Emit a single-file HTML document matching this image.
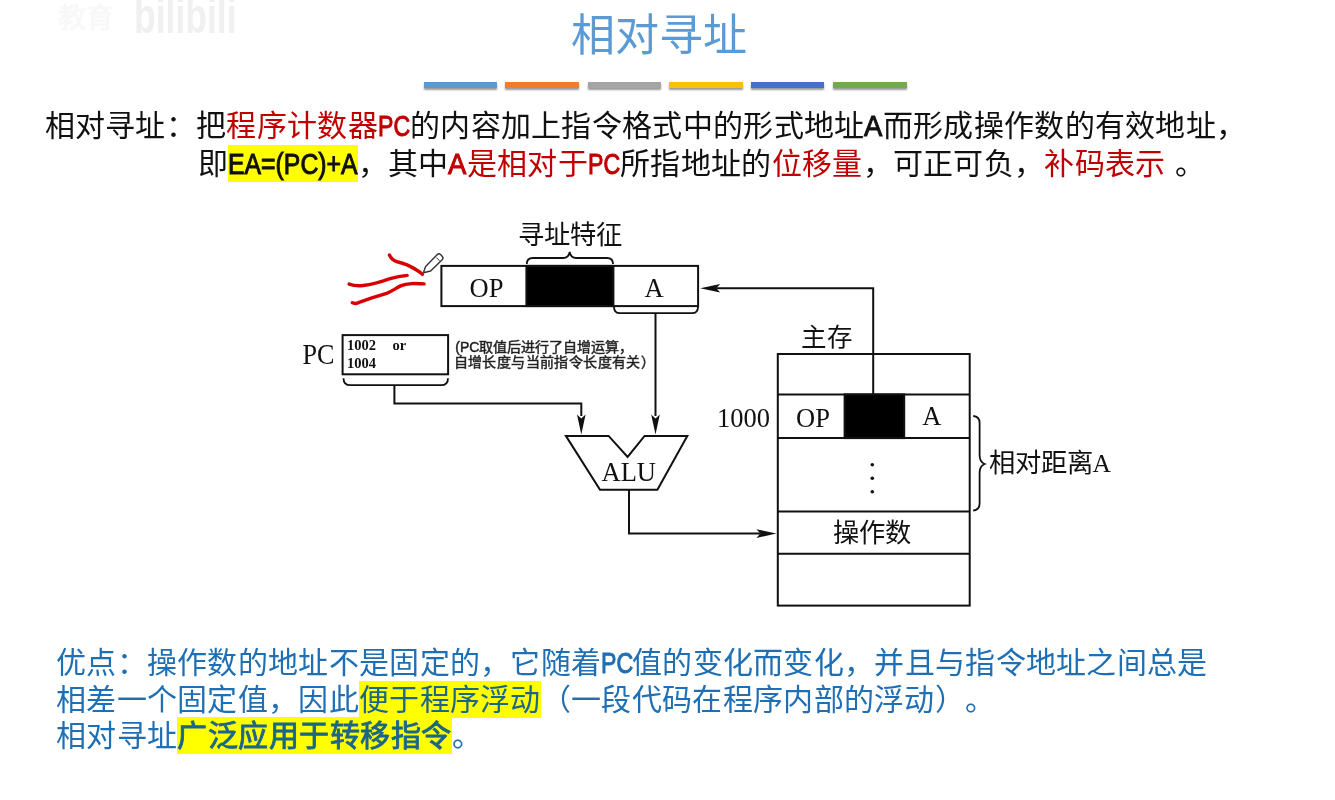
<!DOCTYPE html>
<html lang="zh-CN">
<head>
<meta charset="utf-8">
<title>相对寻址</title>
<style>
html,body{margin:0;padding:0;background:#fff;}
body{width:1335px;height:800px;position:relative;overflow:hidden;filter:blur(.4px);font-family:"Liberation Sans",sans-serif;color:#000;}
.abs{position:absolute;white-space:nowrap;}
.wm{color:#f1f1f1;font-weight:bold;filter:blur(0.6px);}
.title{left:571px;top:7.3px;font-size:44px;line-height:58px;color:#5b9bd5;}
.bar{position:absolute;top:81.8px;height:6.3px;width:73.5px;box-shadow:0 2px 2px rgba(0,0,0,.4);}
.ln{font-size:30px;letter-spacing:.3px;line-height:37px;height:37px;color:#111;text-spacing-trim:space-all;font-kerning:none;}
.red{color:#c00000;}
.lat{display:inline-block;font-family:"Liberation Sans",sans-serif;font-weight:normal;-webkit-text-stroke:1px;font-size:29.2px;line-height:37px;white-space:nowrap;letter-spacing:0;}
.lat>span{display:inline-block;transform-origin:0 50%;}
.wPC{width:32.1px}.wPC>span{transform:scaleX(.792)}
.wA{width:18.4px}.wA>span{transform:scaleX(.94)}
.wEA{width:129.5px}.wEA>span{transform:scaleX(.85)}
.sp{display:inline-block;width:9px;}
.hl{display:inline-block;background:#ffff00;height:37px;line-height:37px;}
.blue{color:#1f6fb5;}
.blue .hl{color:#1c6688;}
.b{font-weight:normal;-webkit-text-stroke:.9px;letter-spacing:.5px;}
svg{position:absolute;left:0;top:0;}
svg text{font-family:"Liberation Serif",serif;fill:#111;}
</style>
</head>
<body>
<!-- faint watermark -->
<div class="abs wm" style="left:58px;top:2px;font-size:28px;line-height:34px;color:#f8f8f8;">教育</div>
<div class="abs wm" style="left:134px;top:-9px;font-size:50px;line-height:50px;color:#f0f0f0;transform:scaleX(.71);transform-origin:0 0;">bilibili</div>

<div class="abs title">相对寻址</div>

<div class="bar" style="left:423.6px;background:#5b9bd5;"></div>
<div class="bar" style="left:505.2px;background:#ed7d31;"></div>
<div class="bar" style="left:587.8px;background:#a5a5a5;"></div>
<div class="bar" style="left:669.3px;background:#ffc000;"></div>
<div class="bar" style="left:750.6px;background:#4472c4;"></div>
<div class="bar" style="left:833.3px;background:#70ad47;"></div>

<div class="abs ln" id="l1" style="left:44.5px;top:107px;">相对寻址：把<span class="red">程序计数器<span class="lat wPC"><span>PC</span></span></span>的内容加上指令格式中的形式地址<span class="lat wA"><span>A</span></span>而形成操作数的有效地址，</div>
<div class="abs ln" id="l2" style="left:197.7px;top:144.8px;">即<span class="hl"><span class="lat wEA"><span>EA=(PC)+A</span></span></span>，其中<span class="red"><span class="lat wA"><span>A</span></span>是相对于<span class="lat wPC"><span>PC</span></span></span>所指地址的<span class="red">位移量</span>，可正可负，<span class="red">补码表示</span><span class="sp"></span>。</div>

<div class="abs ln blue" id="l3" style="left:56px;top:643.8px;">优点：操作数的地址不是固定的，它随着<span class="lat wPC" style="margin-right:-1.5px"><span>PC</span></span>值的变化而变化，并且与指令地址之间总是</div>
<div class="abs ln blue" id="l4" style="left:56px;top:680.7px;">相差一个固定值，因此<span class="hl">便于程序浮动</span>（一段代码在程序内部的浮动）。</div>
<div class="abs ln blue" id="l5" style="left:56px;top:716.5px;">相对寻址<span class="hl b">广泛应用于转移指令</span>。</div>

<svg id="dg" width="1335" height="800" viewBox="0 0 1335 800">
<defs>
<path id="ah" d="M0,0 L-4.3,-20 L0,-16 L4.3,-20 Z"/>
</defs>
<g fill="none" stroke="#111" stroke-width="2" stroke-linejoin="miter">
<!-- instruction register -->
<rect x="441.4" y="265.9" width="256.7" height="40.2"/>
<rect x="526.4" y="265.9" width="87" height="40.2" fill="#000"/>
<!-- brace above feature field -->
<path d="M526.8,264 q0,-6 6,-6 H563.2 q5.5,0 6.5,-6 q1,6 6.5,6 H607 q6,0 6,6" stroke-width="1.8"/>
<!-- bracket below A + stem to ALU -->
<path d="M614,307 q0,6.2 6,6.2 H692 q6,0 6,-6.2" stroke-width="1.8"/>
<path d="M655.5,313 V416"/>
<!-- memory to IR arrow -->
<path d="M873.2,394 V288.3 H716"/>
<!-- PC box -->
<rect x="342.6" y="335.1" width="105.5" height="39.2"/>
<path d="M343.5,378.2 q0,7 7,7 H441 q7,0 7,-7" stroke-width="1.8"/>
<path d="M394.4,385 V403.5 H581.3 V416"/>
<!-- ALU -->
<path d="M565.9,435.9 H608.6 L627.6,456.9 L644.6,435.9 H687.3 L657.4,489.7 H600 Z"/>
<path d="M629,490 V533.6 H760"/>
<!-- memory -->
<rect x="777.8" y="354" width="191.9" height="251.6"/>
<path d="M777.8,394.4 H969.7 M777.8,438.1 H969.7 M777.8,511.6 H969.7 M777.8,553.8 H969.7"/>
<rect x="844.6" y="394.4" width="59.6" height="43.7" fill="#000"/>
<!-- right brace -->
<path d="M973.2,416 q6.4,0.5 6.4,7 V455 q0,7 5,9 q-5,2 -5,9 V503.5 q0,6.5 -6.4,7" stroke-width="1.8"/>
</g>
<g fill="#111" stroke="none">
<use href="#ah" transform="translate(581.3,434.6)"/>
<use href="#ah" transform="translate(655.5,434.6)"/>
<use href="#ah" transform="translate(776.4,533.6) rotate(-90)"/>
<use href="#ah" transform="translate(700.2,288.3) rotate(90)"/>
<circle cx="872.3" cy="464.7" r="1.8"/><circle cx="872.3" cy="478.2" r="1.8"/><circle cx="872.3" cy="491.7" r="1.8"/>
</g>
<!-- labels -->
<text x="517.5" y="243.5" font-size="26.3" fill="#333">寻址特征</text>
<text x="469.5" y="297" font-size="26.5">OP</text>
<text x="644.5" y="297" font-size="26.5">A</text>
<text x="302.5" y="363.7" font-size="29" textLength="32" lengthAdjust="spacingAndGlyphs">PC</text>
<text x="347" y="350" font-size="14.5" font-weight="bold">1002</text>
<text x="392.6" y="350" font-size="14.5" font-weight="bold">or</text>
<text x="347" y="367.8" font-size="14.5" font-weight="bold">1004</text>
<text x="455.3" y="351.6" font-size="14" style="font-family:'Liberation Sans',sans-serif;stroke:#333;stroke-width:.5px;letter-spacing:0" fill="#333">(PC取值后进行了自增运算，</text>
<text x="453.6" y="367.3" font-size="14" style="font-family:'Liberation Sans',sans-serif;stroke:#333;stroke-width:.5px;letter-spacing:.4px" fill="#333">自增长度与当前指令长度有关）</text>
<text x="601.5" y="481" font-size="26.5">ALU</text>
<text x="800.5" y="345.5" font-size="25.5" fill="#333">主存</text>
<text x="717" y="427.2" font-size="26.5">1000</text>
<text x="796" y="427.2" font-size="26.5">OP</text>
<text x="922.3" y="425.2" font-size="26.5">A</text>
<text x="832.5" y="542" font-size="26.3" fill="#333">操作数</text>
<text x="988.5" y="472" font-size="26.3" fill="#222">相对距离<tspan font-size="25.5">A</tspan></text>
<!-- hand drawn strokes -->
<g fill="none" stroke="#d80000" stroke-width="3.4" stroke-linecap="round" stroke-linejoin="round">
<path d="M389.4,255 C391.5,259.5 394,261 398,262 C405,263.5 411,266.5 416.6,270 C419,271.5 421,273 422.4,274.4"/>
<path d="M349.1,284.1 C354,285.8 359,285.9 363.1,285.5 C369,284.9 373,283.8 377.2,282.7 C382,281.3 387,279.6 391.2,278.4 C396,277 402,276 407.2,275.4"/>
<path d="M352.3,302.8 C354,303.6 355,303.6 356.6,303.3 C362,301.5 367,299.5 372.5,297.7 C377.5,296.2 382,295 386.6,293.4 C392,291.3 396,288 400.6,285.9 C404,284.4 408,283.8 411.9,283.6 C416,283.4 420,283.8 424.1,283.9"/>
</g>
<!-- pen cursor -->
<g fill="#fff" stroke="#333" stroke-width="1.4" stroke-linejoin="round">
<path d="M423.4,272.8 L425.6,266.4 L437.3,254.6 Q439,253 440.8,254.7 L442.2,256.2 Q443.8,258 442.2,259.7 L430.6,271 Z"/>
<path d="M436.4,257.6 L439.6,260.8" fill="none" stroke-width="1"/>
</g>
</svg>
</body>
</html>
